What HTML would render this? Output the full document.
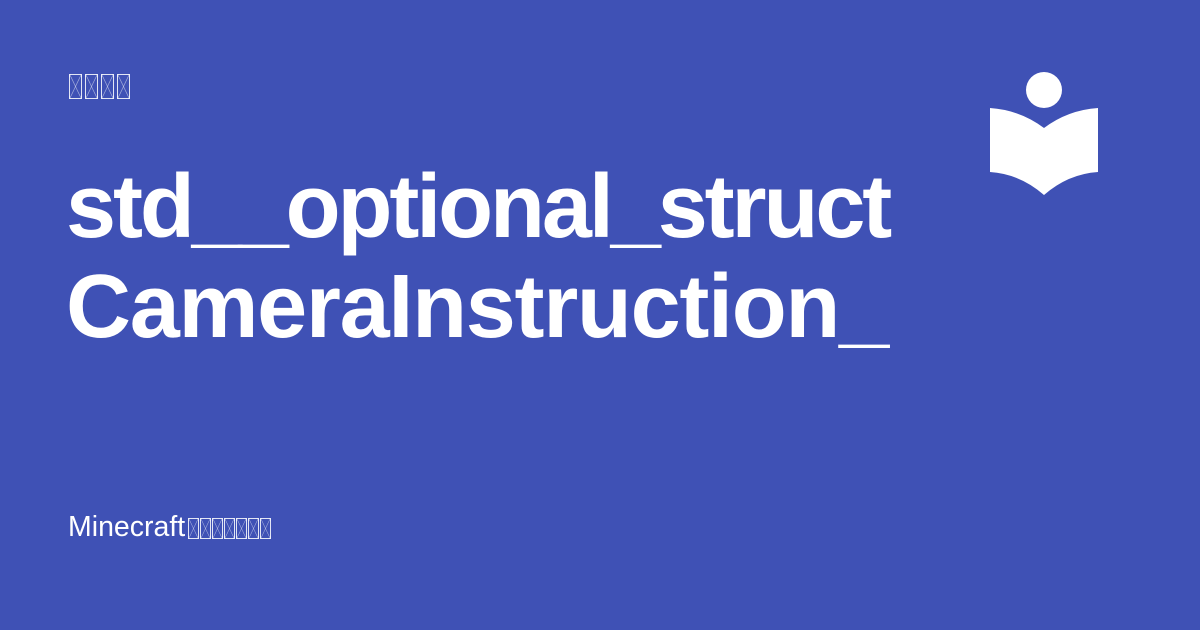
<!DOCTYPE html>
<html><head><meta charset="utf-8"><style>
html,body{margin:0;padding:0}
body{width:1200px;height:630px;background:#3f51b5;position:relative;overflow:hidden;font-family:"Liberation Sans",sans-serif;color:#fff}
.tofu{display:inline-block;box-sizing:border-box;border:1.5px solid rgba(255,255,255,.85);position:absolute;
background:linear-gradient(to bottom right,transparent 47%,rgba(255,255,255,.6) 50%,transparent 53%),linear-gradient(to bottom left,transparent 47%,rgba(255,255,255,.6) 50%,transparent 53%)}
.t{position:absolute;left:66px;font-weight:bold;font-size:90px;line-height:1;white-space:nowrap}
</style></head><body>
<div class="t" style="top:162px;letter-spacing:-3.1px">std__optional_struct</div>
<div class="t" style="top:262px;letter-spacing:-1.3px">CameraInstruction_</div>
<div style="position:absolute;left:68px;top:513px;font-size:28.5px;line-height:1;">Minecraft</div>
<svg style="position:absolute;left:0;top:0" width="1200" height="630">
<circle cx="1044" cy="90" r="18" fill="#fff"/>
<path d="M990 108 Q1020 110 1044 128 Q1068 110 1098 108 L1098 172 Q1068 174 1044 195 Q1020 174 990 172 Z" fill="#fff"/>
</svg>
<span class="tofu" style="left:69px;top:74px;width:13px;height:25px"></span>
<span class="tofu" style="left:85px;top:74px;width:13px;height:25px"></span>
<span class="tofu" style="left:101px;top:74px;width:13px;height:25px"></span>
<span class="tofu" style="left:117px;top:74px;width:13px;height:25px"></span>
<span class="tofu" style="left:188px;top:518px;width:11px;height:21px"></span>
<span class="tofu" style="left:200px;top:518px;width:11px;height:21px"></span>
<span class="tofu" style="left:212px;top:518px;width:11px;height:21px"></span>
<span class="tofu" style="left:224px;top:518px;width:11px;height:21px"></span>
<span class="tofu" style="left:236px;top:518px;width:11px;height:21px"></span>
<span class="tofu" style="left:248px;top:518px;width:11px;height:21px"></span>
<span class="tofu" style="left:260px;top:518px;width:11px;height:21px"></span>
</body></html>
